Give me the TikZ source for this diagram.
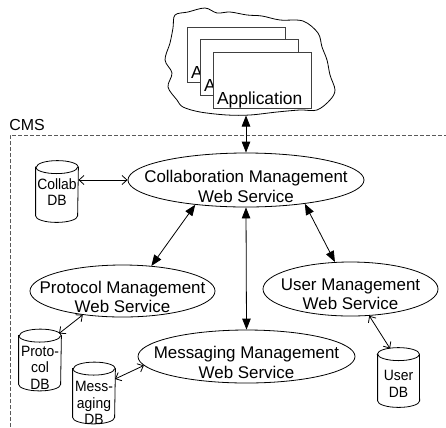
\documentclass[tikz,border=0pt]{standalone}
\usepackage{fontspec}
\setmainfont{Liberation Sans}
\newfontfamily\dbfont[FakeStretch=0.93]{Liberation Sans}
\usetikzlibrary{arrows.meta,calc,shapes.geometric}
\newcommand\dbcyl[1]{%
  \draw[dbline] ([yshift=-6.5bp]#1.north west) -- ([yshift=6.5bp]#1.south west)
     arc[start angle=180, end angle=360, x radius=21bp, y radius=6.5bp]
     -- ([yshift=-6.5bp]#1.north east)
     arc[start angle=0, end angle=180, x radius=21bp, y radius=6.5bp] -- cycle;
  \draw[dbline] ([yshift=-6.5bp]#1.north west)
     arc[start angle=180, end angle=360, x radius=21bp, y radius=6.5bp];
}
\begin{document}
\begin{tikzpicture}[x=1bp,y=-1bp,
  line width=0.8bp,
  svc/.style={ellipse, draw, inner sep=0pt},
  svctext/.style={font=\fontsize{17}{19.5}\selectfont, align=center, inner sep=0pt},
  dbtext/.style={font=\dbfont\fontsize{15}{16.5}\selectfont, align=center, inner sep=0pt},
  dbnode/.style={rectangle, inner sep=0pt, minimum width=42bp, minimum height=61bp},
  dbline/.style={line width=0.8bp},
  appbox/.style={rectangle, draw=black!75, fill=white, minimum width=98bp, minimum height=55.5bp, inner sep=0pt},
  apptext/.style={font=\fontsize{17.5}{20}\selectfont, inner sep=0pt, anchor=base west},
  big/.style={{Triangle[length=11bp,width=8.5bp]}-{Triangle[length=11bp,width=8.5bp]}},
  small/.style={{Straight Barb[length=5bp,width=9bp]}-{Straight Barb[length=5bp,width=9bp]}},
  cms/.style={draw=black!65, dash pattern=on 4bp off 2bp, line width=0.7bp}
]
\useasboundingbox (0,0) rectangle (446,427);

% CMS boundary
\draw[cms] (10,427) -- (10,135) -- (446,135);
\node[font=\fontsize{16}{18}\selectfont, anchor=base west, inner sep=0pt] (cmslabel) at (9,130) {CMS};

% cloud with applications
\draw plot[smooth cycle, tension=0.55] coordinates {
 (175,15) (188,12) (205,8) (217,13) (230,12) (247,15) (262,16) (280,20)
 (303,21) (318,33) (322,47) (327,60) (330,75) (335,90) (330,100) (317,110)
 (300,110) (277,112) (250,115) (227,115) (200,112) (183,107) (177,100)
 (168,87) (172,73) (165,60) (170,43) (173,28)};
\coordinate (cloudb) at (246,115.5);

\node[appbox] (app1) at (236.5,55) {};
\node[apptext] (app1t) at ($(app1.south west)+(3.5,-4.5)$) {A};
\node[appbox] (app2) at (249.5,67.5) {};
\node[apptext] (app2t) at ($(app2.south west)+(3.5,-4.5)$) {A};
\node[appbox] (app3) at (262.5,80.5) {};
\node[apptext] (app3t) at ($(app3.south west)+(3.5,-4.5)$) {Application};

% services
\node[svc, minimum width=236bp, minimum height=54bp] (collab) at (246,180) {};
\node[svctext] (collabt) at (246,186.5) {Collaboration Management\\Web Service};
\node[svc, minimum width=185bp, minimum height=52bp] (proto) at (122.5,291) {};
\node[svctext] (protot) at (122.5,297) {Protocol Management\\Web Service};
\node[svc, minimum width=217bp, minimum height=53bp] (msg) at (246.5,356.5) {};
\node[svctext] (msgt) at (246.5,362.5) {Messaging Management\\Web Service};
\node[svc, minimum width=175bp, minimum height=54bp] (user) at (350.5,289) {};
\node[svctext] (usert) at (350.5,294) {User Management\\Web Service};

% databases
\node[dbnode] (cdb) at (57,191.5) {};
\dbcyl{cdb}
\node[dbtext] (cdbt) at (57,192) {Collab\\DB};
\node[dbnode] (pdb) at (40,360) {};
\dbcyl{pdb}
\node[dbtext] (pdbt) at (40,367.5) {Proto-\\col\\DB};
\node[dbnode] (mdb) at (94,393) {};
\dbcyl{mdb}
\node[dbtext] (mdbt) at (94,403) {Mess-\\aging\\DB};
\node[dbnode, minimum width=41bp, minimum height=59bp] (udb) at (398.5,377.5) {};
\dbcyl{udb}
\node[dbtext] (udbt) at (398.5,384) {User\\DB};

% connectors
\draw[big] (cloudb) -- (collab.north);
\draw[big] (collab.-154.7) -- (proto.41);
\draw[big] (collab.south) -- (msg.north);
\draw[big] (collab.-22) -- (user.120);
\draw[small] (cdb.east |- collab.west) -- (collab.west);
\draw[small] ($(pdb.center)+(19,-26.5)$) -- (proto.211);
\draw[small] ($(mdb.center)+(21,-14)$) -- (msg.185);
\draw[small] ($(udb.center)+(-8.5,-29)$) -- (user.-55);
\end{tikzpicture}
\end{document}
